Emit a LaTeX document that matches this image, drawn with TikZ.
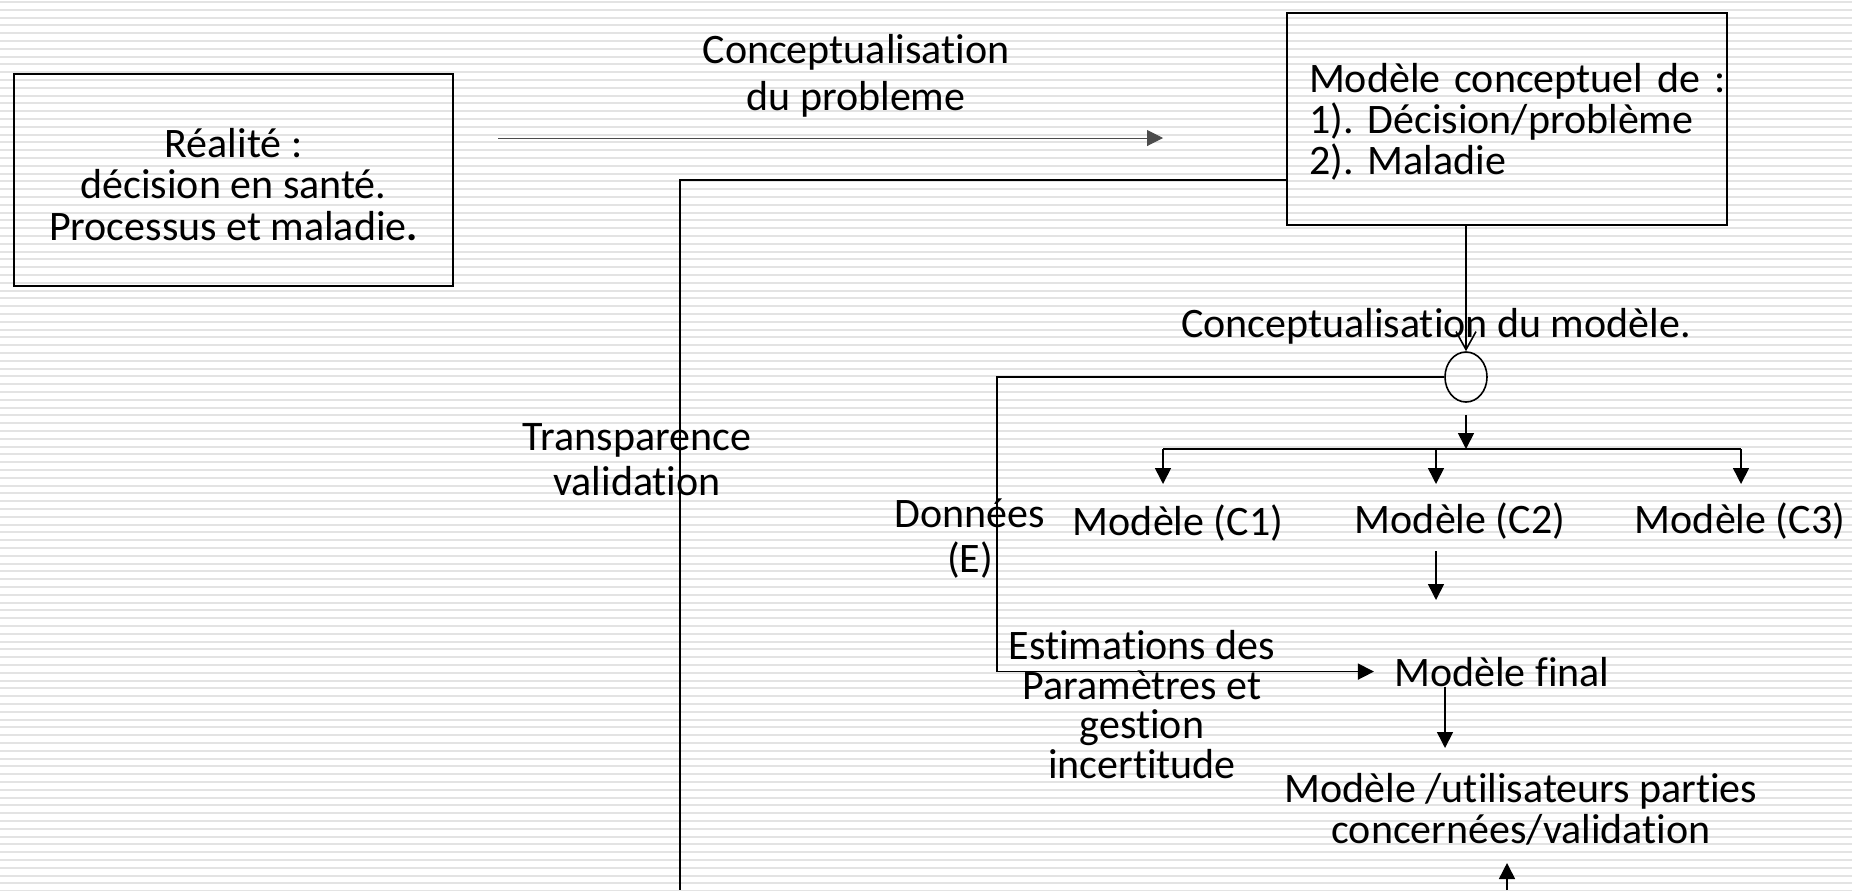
\documentclass[tikz,border=0pt]{standalone}
\usepackage{fontspec}
\setmainfont{Carlito}[Ligatures=CommonOff]
\usetikzlibrary{positioning,shapes.geometric,arrows.meta}
\frenchspacing

\begin{document}
\begin{tikzpicture}[x=0.5pt,y=-0.5pt,
    raie/.style={black!11,line width=1pt},
    trait/.style={line width=0.8pt},
    fleche/.style={trait,-{Triangle[length=8pt,width=8pt]}},
    texte/.style={inner sep=0pt,font=\fontsize{21}{20.5}\selectfont,align=center},
    boite/.style={draw,line width=0.8pt,font=\fontsize{21}{20.5}\selectfont}]
  \useasboundingbox (0,0) rectangle (1852,890);
  \fill[white] (0,0) rectangle (1852,890);
  \foreach \k in {0,...,114}
    \draw[raie] (0,\k*7.8+2) -- (1852,\k*7.8+2);

  % boites
  \node[boite,minimum width=219.5pt,minimum height=106pt,align=center,
        font=\fontsize{21}{20.75}\selectfont] (realite) at (233.5,180)
        {\rule{0pt}{18.8pt}Réalité :\\décision en santé.\\Processus et maladie\textbf{.}};
  \node[boite,minimum height=106pt,text width=198pt,inner xsep=11pt,align=left] (modconc) at (1507,119)
        {\rule{0pt}{17.5pt}\mbox{Modèle conceptuel de :}\\1). Décision/problème\\2). Maladie};

  % textes
  \node[texte,anchor=base,font=\fontsize{21}{23.5}\selectfont] (conceptprob) at (856,110) {Conceptualisation\\du probleme};
  \node[texte,anchor=base,font=\fontsize{21}{22.5}\selectfont] (transp) at (637,495) {Transparence\\validation};
  \node[texte,anchor=base] (conceptmod) at (1436,337) {Conceptualisation du modèle.};
  \node[draw,trait,ellipse,minimum width=21pt,minimum height=25pt,inner sep=0pt] (jonction) at (1466,377) {};
  \node[texte,anchor=base,font=\fontsize{21}{22.5}\selectfont] (donnees) at (970,572) {Données\\(E)};
  \node[texte,anchor=base] (mc1) at (1178,535) {Modèle (C1)};
  \node[texte,anchor=base] (mc2) at (1460,533) {Modèle (C2)};
  \node[texte,anchor=base] (mc3) at (1740,533) {Modèle (C3)};
  \node[texte,anchor=base,font=\fontsize{21}{19.75}\selectfont] (estim) at (1142,778) {Estimations des\\Paramètres et\\gestion\\incertitude};
  \node[texte,anchor=base] (final) at (1502,686) {Modèle final};
  \node[texte,anchor=base] (valid) at (1521,843) {Modèle /utilisateurs parties\\concernées/validation};

  % points
  \coordinate (probA) at (498,138);
  \coordinate (probB) at (1163,138);
  \coordinate (valA) at (680,180);
  \coordinate (valB) at (680,890);
  \coordinate (coin) at (997,377);
  \coordinate (branche) at (1163,449);
  \coordinate (c2bas) at (1436,600);
  \coordinate (finbas) at (1445,748);
  \coordinate (retour) at (1507,890);
  \coordinate (retourhaut) at (1507,863);

  % connecteurs
  \draw[black!70,line width=0.5pt,-{Triangle[length=8pt,width=8pt]}] (probA) -- (probB);
  \draw[trait] (modconc.west |- valA) -- (valA) -- (valB);
  \draw[trait,-{Straight Barb[length=9pt,width=10pt]}] (jonction |- modconc.south) -- (jonction.north);
  \draw[fleche,shorten <=6pt] (jonction.south) -- (jonction.south |- branche);
  \draw[trait] (branche) -- (1741,449);
  \foreach \x/\n in {1163/c1,1436/c2,1741/c3} {
    \coordinate (h\n) at (\x,449);
    \coordinate (b\n) at (\x,484);
    \draw[fleche] (h\n) -- (b\n);
  }
  \draw[fleche,shorten <=6pt] (mc2.south -| c2bas) -- (c2bas);
  \draw[fleche,shorten >=10pt] (jonction.west) -- (coin) |- (final.west);
  \draw[fleche] (final.south -| finbas) -- (finbas);
  \draw[fleche] (retour) -- (retourhaut);
\end{tikzpicture}
\end{document}
